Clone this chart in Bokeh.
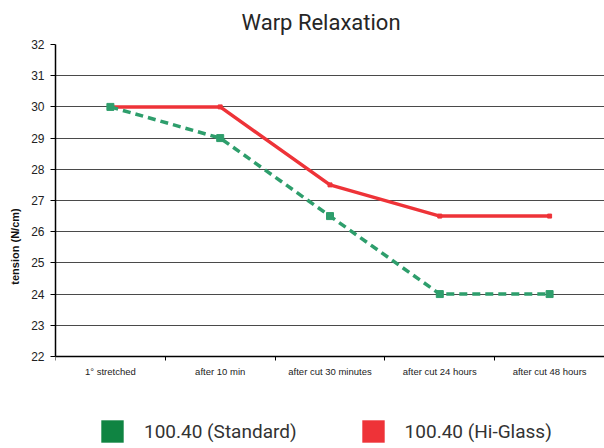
from bokeh.plotting import figure
from bokeh.models import ColumnDataSource, FixedTicker, Legend, LegendItem, Range1d
from bokeh.embed import file_html
from bokeh.resources import INLINE

categories = ["1° stretched", "after 10 min", "after cut 30 minutes", "after cut 24 hours", "after cut 48 hours"]
standard = [30, 29, 26.5, 24, 24]
hi_glass = [30, 30, 27.5, 26.5, 26.5]
series_names = ["100.40 (Standard)", "100.40 (Hi-Glass)"]
y_ticks = list(range(22, 33))

xs = list(range(len(categories)))
y_min, y_max = y_ticks[0], y_ticks[-1]

p = figure(width=604, height=448, output_backend="svg", toolbar_location=None,
           x_range=Range1d(-0.5, len(categories) - 0.5),
           y_range=Range1d(y_min - 2.95, y_max),
           min_border_left=55, min_border_top=44, min_border_right=0, min_border_bottom=0,
           title="Warp Relaxation")
p.outline_line_color = None
p.background_fill_color = "white"
p.border_fill_color = "white"

p.title.align = "left"
p.title.offset = 186
p.title.vertical_align = "top"
p.title.text_font = "Roboto"
p.title.text_font_size = "22px"
p.title.text_font_style = "normal"
p.title.text_color = "#262626"
p.title.standoff = 16

# grid
p.xgrid.grid_line_color = None
p.ygrid.grid_line_color = "#4a4a4a"
p.ygrid.grid_line_width = 1.2
p.ygrid.ticker = FixedTicker(ticks=y_ticks)

# y axis
p.yaxis.ticker = FixedTicker(ticks=y_ticks)
p.yaxis.bounds = (y_min, y_max)
p.yaxis.axis_line_color = "black"
p.yaxis.axis_line_width = 1.5
p.yaxis.major_tick_out = 5
p.yaxis.major_tick_in = 0
p.yaxis.minor_tick_line_color = None
p.yaxis.major_tick_line_color = "black"
p.yaxis.major_label_text_font = "Liberation Sans"
p.yaxis.major_label_text_font_size = "12px"
p.yaxis.major_label_text_color = "#222222"
p.yaxis.major_label_standoff = 6
p.yaxis.axis_label = "tension (N/cm)"
p.yaxis.axis_label_text_font = "Liberation Sans"
p.yaxis.axis_label_text_font_size = "11px"
p.yaxis.axis_label_text_font_style = "bold"
p.yaxis.axis_label_text_color = "#111111"
p.yaxis.axis_label_standoff = 7

# x axis, placed at the bottom of the value range
p.xaxis.fixed_location = y_min
p.xaxis.ticker = FixedTicker(ticks=xs, minor_ticks=[x - 0.5 for x in xs] + [xs[-1] + 0.5])
p.xaxis.major_label_overrides = {i: c for i, c in zip(xs, categories)}
p.xaxis.major_tick_out = 0
p.xaxis.major_tick_in = 0
p.xaxis.minor_tick_out = 4
p.xaxis.minor_tick_in = 0
p.xaxis.minor_tick_line_color = "black"
p.xaxis.axis_line_color = "black"
p.xaxis.axis_line_width = 1.5
p.xaxis.major_label_text_font = "Liberation Sans"
p.xaxis.major_label_text_font_size = "9.5px"
p.xaxis.major_label_text_color = "#222222"
p.xaxis.major_label_standoff = 6

green_line = "#2e9e6c"
red_line = "#ee3338"
green_leg = "#0f8442"
red_leg = "#ee3338"

src = ColumnDataSource(dict(x=xs, std=standard, hg=hi_glass))

# legend swatches: zero-size rects at the data points (invisible in the plot area)
r_g = p.rect("x", "std", width=0, height=0, source=src,
             fill_color=green_leg, line_color=None)
r_r = p.rect("x", "hg", width=0, height=0, source=src,
             fill_color=red_leg, line_color=None)

p.line("x", "hg", source=src, line_color=red_line, line_width=3.5)
p.scatter("x", "hg", source=src, marker="square", size=4, color=red_line)
p.line("x", "std", source=src, line_color=green_line, line_width=3.5, line_dash="8 5")
p.scatter("x", "std", source=src, marker="square", size=7, color=green_line)

legend = Legend(items=[LegendItem(label=series_names[0], renderers=[r_g]),
                       LegendItem(label=series_names[1], renderers=[r_r])],
                orientation="horizontal", location=(43, 3),
                glyph_width=28, glyph_height=28, label_standoff=18, spacing=62,
                padding=0, margin=0, border_line_color=None, background_fill_alpha=0,
                label_text_font="Roboto", label_text_font_size="19px",
                label_text_color="#333333", label_height=28)
p.add_layout(legend, "center")

open("out.html", "w").write(file_html(p, INLINE))
